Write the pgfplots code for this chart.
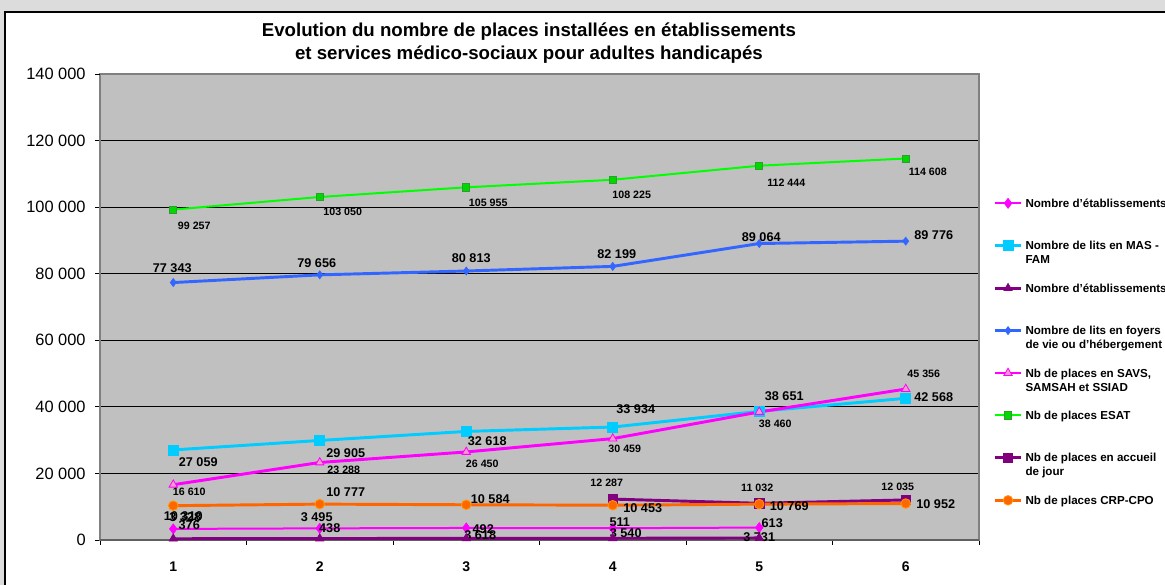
\documentclass[border=0pt]{standalone}
\usepackage{fontspec}
\setmainfont{Liberation Sans}
\usepackage{pgfplots}
\usepackage{pgfplotstable}
\pgfplotsset{compat=1.18}
\pgfplotsset{/pgf/number format/assume math mode=true}

\definecolor{cMag}{HTML}{FF00FF}
\definecolor{cCyan}{HTML}{00CCFF}
\definecolor{cPurple}{HTML}{800080}
\definecolor{cBlue}{HTML}{3366FF}
\definecolor{cPink}{HTML}{FF99CC}
\definecolor{cGreen}{HTML}{00FF00}
\definecolor{cGreenEdge}{HTML}{339933}
\definecolor{cOrange}{HTML}{FF6600}
\definecolor{cOrangeEdge}{HTML}{FF9900}
\definecolor{plotgray}{HTML}{C0C0C0}
\definecolor{framegray}{HTML}{DCDCDC}
\definecolor{axisgray}{HTML}{808080}
\definecolor{axisdark}{HTML}{606060}

\pgfplotstableread{
x y
1 3328
2 3495
3 3618
4 3540
5 3731
}\etabA
\pgfplotstableread{
x y
1 27059
2 29905
3 32618
4 33934
5 38651
6 42568
}\litsMAS
\pgfplotstableread{
x y
1 376
2 438
3 492
4 511
5 613
}\etabB
\pgfplotstableread{
x y
1 77343
2 79656
3 80813
4 82199
5 89064
6 89776
}\foyers
\pgfplotstableread{
x y
1 16610
2 23288
3 26450
4 30459
5 38460
6 45356
}\savs
\pgfplotstableread{
x y
1 99257
2 103050
3 105955
4 108225
5 112444
6 114608
}\esat
\pgfplotstableread{
x y
4 12287
5 11032
6 12035
}\accueil
\pgfplotstableread{
x y
1 10310
2 10777
3 10584
4 10453
5 10769
6 10952
}\crp

% label offsets (pixels) for each point
\def\dxA{{12,-3,14,13,0}}        \def\dyA{{11.9,11.4,-7,-4.8,-9.4}}
\def\dxB{{25,26,21,23,25,28}}    \def\dyB{{-12,-12.5,-9.6,18,15.3,1.3}}
\def\dxC{{16,10,17,7,13}}        \def\dyC{{13.7,10.5,9.4,16.3,15}}
\def\dxD{{-1,-3,5,4,2,28}}       \def\dyD{{14.6,11.9,13,12.4,6.5,6.2}}
\def\dxE{{16,24,16,12,16,18}}    \def\dyE{{-7.3,-7.5,-12,-10.4,-12,15}}
\def\dxF{{21,23,22,19,27,22}}    \def\dyF{{-16.4,-15,-15.7,-15.2,-17.3,-13.5}}
\def\dxG{{-6,-2,-8}}             \def\dyG{{16.1,15.3,13}}
\def\dxH{{10,26,24,30,30,30}}    \def\dyH{{-10.3,12.1,5.8,-2.8,-1.8,-0.5}}

\newcommand{\bigfont}{\fontsize{9.5}{11}\selectfont\bfseries}
\newcommand{\smallfont}{\fontsize{8}{9.5}\selectfont\bfseries}
\newcommand{\two}[2]{\vtop{\hbox{#1}\hbox{#2}}}

\pgfplotsset{
  lbl/.style n args={3}{
    point meta=rawy,
    nodes near coords={\pgfmathprintnumber[fixed,precision=0,1000 sep={\ }]{\pgfplotspointmeta}},
    nodes near coords style={anchor=center, inner sep=0pt, text=black,
      xshift={#2[\coordindex]*0.75pt}, yshift={#3[\coordindex]*0.75pt}, font=#1},
  },
  sA/.style={color=cMag, line width=1.5pt, mark=diamond*, mark size=3.75pt,
    mark options={fill=cMag, draw=cMag, line width=0.5pt}},
  sB/.style={color=cCyan, line width=2.2pt, mark=square*, mark size=3.75pt,
    mark options={fill=cCyan, draw=cCyan, line width=0.5pt}},
  sC/.style={color=cPurple, line width=2.2pt, mark=triangle*, mark size=3.6pt,
    mark options={fill=cPurple, draw=cPurple, line width=0.5pt}},
  sD/.style={color=cBlue, line width=2.2pt, mark=diamond*, mark size=3pt,
    mark options={fill=cBlue, draw=cBlue, line width=0.5pt}},
  sE/.style={color=cMag, line width=2.2pt, mark=triangle*, mark size=3.6pt,
    mark options={fill=cPink, draw=cMag, line width=0.6pt}},
  sF/.style={color=cGreen, line width=1.5pt, mark=square*, mark size=2.7pt,
    mark options={fill=cGreen!85!black, draw=cGreenEdge, line width=0.6pt}},
  sG/.style={color=cPurple, line width=2.2pt, mark=square*, mark size=3.5pt,
    mark options={fill=cPurple, draw=cPurple, line width=0.5pt}},
  sH/.style={color=cOrange, line width=2.2pt, mark=*, mark size=3.6pt,
    mark options={fill=cOrange, draw=cOrangeEdge, line width=0.6pt}},
}

\begin{document}
\begin{tikzpicture}
\useasboundingbox (0,0) rectangle (873.75pt,438.75pt);
\fill[framegray] (0,0) rectangle (873.75pt,438.75pt);
\fill[white] (3.75pt,0) rectangle (873.75pt,429.75pt);
\draw[black, line width=1.1pt] (3.75pt,0) -- (3.75pt,429.75pt) -- (873.75pt,429.75pt);
\begin{axis}[
  at={(75pt,33.75pt)}, anchor=south west,
  scale only axis, width=659.25pt, height=349.5pt,
  xmin=0.5, xmax=6.5, ymin=0, ymax=140000,
  clip=false,
  axis background/.style={fill=plotgray},
  axis line style={draw=axisgray, line width=1.1pt},
  xtick={1,...,6}, minor xtick={0.5,1.5,...,6.5},
  ytick={0,20000,...,120000},
  extra y ticks={140000}, extra y tick style={ymajorgrids=false},
  tick pos=left,
  tick align=outside, major tick length=3.75pt, minor tick length=3.75pt,
  tick style={draw=black, line width=0.6pt},
  major x tick style={draw=none},
  ymajorgrids, major grid style={black, line width=0.6pt},
  scaled y ticks=false,
  yticklabel style={font=\fontsize{12.3}{14}\selectfont, xshift=-3.5pt,
    /pgf/number format/fixed, /pgf/number format/1000 sep={\ }},
  xticklabel style={font=\fontsize{10.5}{12}\selectfont\bfseries, yshift=-9pt},
  title={Evolution du nombre de places installées en établissements\\et services médico-sociaux pour adultes handicapés},
  title style={at={(0.488,1.0697)}, anchor=center, align=center, yshift=-7.5pt,
    font=\fontsize{14}{17.25}\selectfont\bfseries},
  legend style={at={(1.0159,0.7345)}, anchor=north west,
    draw=none, fill=none, inner sep=0pt, column sep=2pt, row sep=0pt,
    font=\fontsize{8.7}{10.5}\selectfont\bfseries,
    cells={anchor=base west},
    nodes={inner sep=0pt, text height=7pt, text depth=24.82pt},
  },
  legend image code/.code={\draw[mark repeat=2,mark phase=2,#1] plot coordinates {(0pt,3pt) (10pt,3pt) (20pt,3pt)};},
]
\draw[axisdark, line width=1.8pt] (axis cs:0.5,0) -- (axis cs:6.5,0);

\addplot[sA, lbl={\bigfont}{\dxA}{\dyA}, forget plot] table[x=x,y=y] {\etabA};
\addplot[sB, lbl={\bigfont}{\dxB}{\dyB}, forget plot] table[x=x,y=y] {\litsMAS};
\addplot[sC, lbl={\bigfont}{\dxC}{\dyC}, forget plot] table[x=x,y=y] {\etabB};
\addplot[sD, lbl={\bigfont}{\dxD}{\dyD}, forget plot] table[x=x,y=y] {\foyers};
\addplot[sE, lbl={\smallfont}{\dxE}{\dyE}, forget plot] table[x=x,y=y] {\savs};
\addplot[sF, lbl={\smallfont}{\dxF}{\dyF}, forget plot] table[x=x,y=y] {\esat};
\addplot[sG, lbl={\smallfont}{\dxG}{\dyG}, forget plot] table[x=x,y=y] {\accueil};
\addplot[sH, lbl={\bigfont}{\dxH}{\dyH}, forget plot] table[x=x,y=y] {\crp};

\addlegendimage{sA}\addlegendentry{Nombre d'établissements}
\addlegendimage{sB}\addlegendentry{\two{Nombre de lits en MAS -}{FAM}}
\addlegendimage{sC}\addlegendentry{Nombre d'établissements}
\addlegendimage{sD}\addlegendentry{\two{Nombre de lits en foyers}{de vie ou d'hébergement}}
\addlegendimage{sE}\addlegendentry{\two{Nb de places en SAVS,}{SAMSAH et SSIAD}}
\addlegendimage{sF}\addlegendentry{Nb de places ESAT}
\addlegendimage{sG}\addlegendentry{\two{Nb de places en accueil}{de jour}}
\addlegendimage{sH}\addlegendentry{Nb de places CRP-CPO}
\end{axis}
\end{tikzpicture}
\end{document}
